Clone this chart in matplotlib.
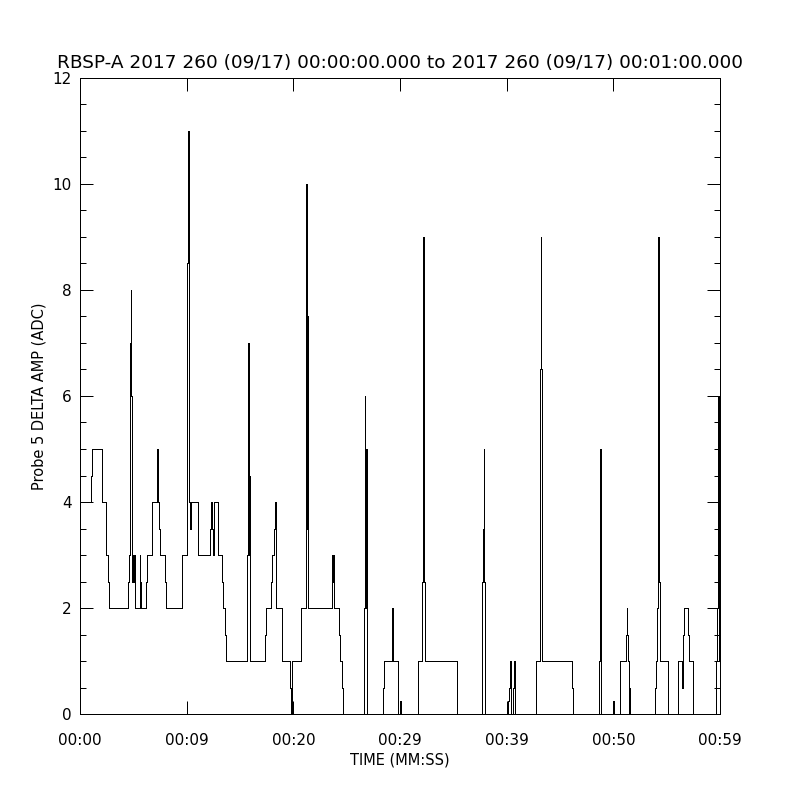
import numpy as np
import matplotlib
matplotlib.use("Agg")
import matplotlib.pyplot as plt
from matplotlib.ticker import MultipleLocator

# step breakpoints: time (s) where a new level starts, and the level (ADC)
t_sec = [0.00, 1.05, 1.12, 2.05, 2.45, 2.65, 2.73, 4.52, 4.60, 4.66, 4.69, 4.72,
         4.75, 4.78, 4.81, 4.84, 4.88, 4.92, 4.96, 5.00, 5.04, 5.08, 5.12, 5.16,
         5.60, 5.64, 5.68, 5.72, 6.22, 6.30, 6.75, 7.18, 7.24, 7.28, 7.32, 7.36,
         7.40, 7.44, 7.50, 8.00, 8.10, 9.56, 10.06, 10.16, 10.22, 10.26, 10.30,
         10.34, 10.38, 10.44, 11.08, 12.18, 12.26, 12.34, 12.44, 12.59, 12.92,
         13.28, 13.36, 13.60, 13.68, 15.70, 15.76, 15.80, 15.84, 15.88, 15.92,
         15.96, 17.36, 17.45, 17.88, 17.96, 18.18, 18.26, 18.34, 18.42, 18.96,
         19.66, 19.74, 19.78, 19.82, 19.88, 19.92, 20.68, 21.16, 21.20, 21.24,
         21.28, 21.32, 21.36, 21.42, 23.66, 23.72, 23.76, 23.82, 24.30, 24.40,
         24.58, 24.68, 26.66, 26.72, 26.76, 26.80, 26.84, 26.88, 28.45, 28.53,
         29.22, 29.26, 29.32, 29.84, 30.02, 30.08, 31.72, 32.06, 32.14, 32.19,
         32.23, 32.27, 32.34, 35.30, 37.72, 37.78, 37.84, 37.88, 37.94, 40.08,
         40.20, 40.30, 40.36, 40.58, 40.66, 40.74, 40.80, 42.78, 43.16, 43.22,
         43.26, 43.32, 46.16, 46.24, 48.66, 48.72, 48.76, 48.80, 48.86, 49.96,
         50.02, 50.66, 51.20, 51.26, 51.32, 51.40, 51.44, 51.50, 51.54, 51.60,
         53.90, 54.04, 54.10, 54.18, 54.22, 54.26, 54.32, 54.40, 55.16, 56.08,
         56.42, 56.52, 56.66, 56.96, 57.06, 57.44, 59.66, 59.74, 59.78, 59.84,
         59.88, 59.92, 59.96, 60.00]
delta_amp = [4, 4.5, 5, 4, 3, 2.5, 2, 2.5, 3, 6, 7, 6,
             8, 7, 6, 3, 2.5, 3, 2.5, 3, 2.5, 3, 2.5, 2,
             3, 2, 2.5, 2, 2.5, 3, 4, 4.5, 5, 4.5, 4, 3.5,
             4, 3.5, 3, 2.5, 2, 3, 8.5, 11, 8.5, 4, 3.5,
             4, 3.5, 4, 3, 3.5, 4, 3.5, 3, 4, 3,
             2.5, 2, 1.5, 1, 3, 7, 4.5, 3, 4.5, 1.5,
             1, 1.5, 2, 2.5, 3, 3.5, 4, 3.5, 2, 1,
             0.5, 0, 0.5, 0, 0.5, 1, 2, 3.5, 10, 7.5,
             3.5, 7.5, 3.5, 2, 3, 2.5, 3, 2, 1.5, 1,
             0.5, 0, 2, 6, 5, 2, 5, 0, 0.5, 1,
             1.5, 2, 1, 0, 0.25, 0, 1, 2.5, 6.5, 9,
             6.5, 2.5, 1, 0, 2.5, 3.5, 5, 2.5, 0, 0.25,
             0.5, 1, 0, 0.5, 1, 0.5, 0, 1, 6.5, 9,
             6.5, 1, 0.5, 0, 1, 2.5, 5, 2.5, 0, 0.25,
             0, 1, 1.5, 2, 1.5, 1, 0.5, 0, 0.5, 0,
             0.5, 1, 2, 6.5, 9, 6.5, 2.5, 1, 0, 1,
             0.5, 1.5, 2, 1.5, 1, 0, 1, 2, 4, 6,
             4, 1, 0, 0]

tick_pos = [0, 10, 20, 30, 40, 50, 60]
tick_labels = ["00:00", "00:09", "00:20", "00:29", "00:39", "00:50", "00:59"]

title = "RBSP-A 2017 260 (09/17) 00:00:00.000 to 2017 260 (09/17) 00:01:00.000"

plt.rcParams['font.family'] = ['DejaVu Sans']

fig = plt.figure(figsize=(8, 8), dpi=100)
ax = fig.add_axes([0.1, 0.1075, 0.8, 0.795])

ax.plot(t_sec, delta_amp, drawstyle='steps-post', color='black', lw=0.72,
        antialiased=False)

ax.set_xlim(0, 60)
ax.set_ylim(0, 12)
ax.set_xticks(tick_pos)
ax.set_xticklabels(tick_labels)
ax.yaxis.set_major_locator(MultipleLocator(2))
ax.yaxis.set_minor_locator(MultipleLocator(0.5))
ax.tick_params(which='both', direction='in', top=True, right=True, width=0.72,
               labelsize=11, pad=6)
ax.tick_params(axis='x', pad=14)
ax.tick_params(which='major', length=9.5)
ax.tick_params(which='minor', length=4.5)
for s in ax.spines.values():
    s.set_linewidth(0.72)

ax.set_xlabel("TIME (MM:SS)", fontsize=10.5, labelpad=3)
ax.set_ylabel("Probe 5 DELTA AMP (ADC)", fontsize=10.5, labelpad=4)
ax.set_title(title, fontsize=13.3, pad=7)

fig.savefig("out.png", dpi=100, facecolor='white')
